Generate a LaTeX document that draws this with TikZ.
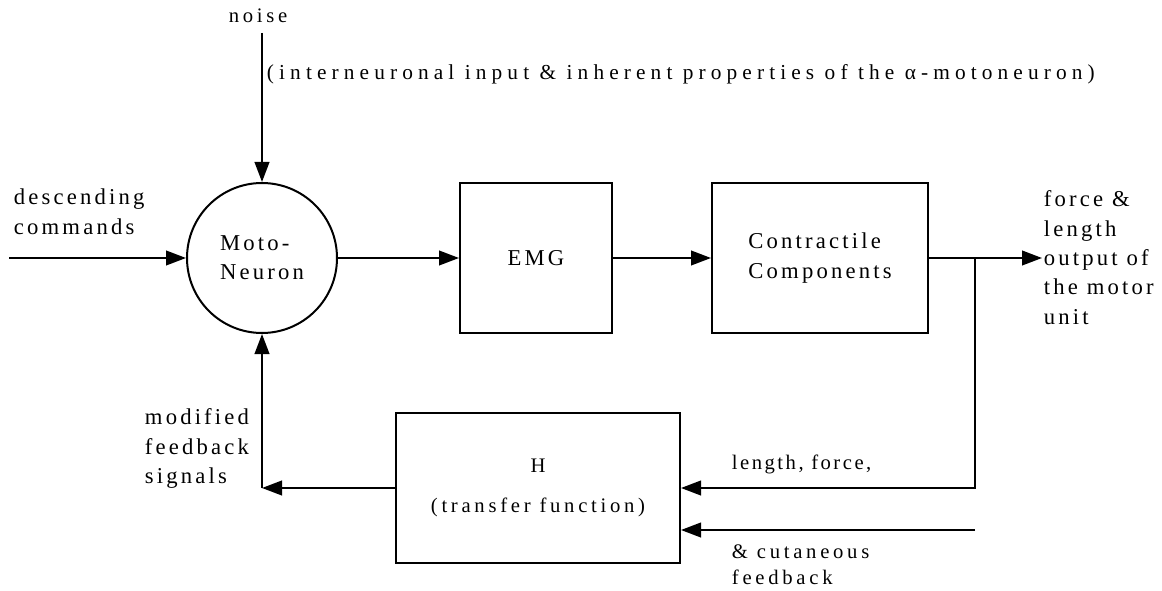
\documentclass[tikz,border=0pt]{standalone}
\usepackage{fontspec}
\setmainfont{Liberation Serif}
\newfontfamily\bigf[LetterSpace=14]{Liberation Serif}
\newfontfamily\smallf[LetterSpace=18]{Liberation Serif}
\newfontfamily\interf[LetterSpace=24]{Liberation Serif}
\newfontfamily\lenf[LetterSpace=12]{Liberation Serif}
\usetikzlibrary{arrows.meta}
\begin{document}
\begin{tikzpicture}[x=0.75pt,y=-0.75pt,
  line width=1.45pt,
  arr/.style={-{Triangle[length=15pt,width=11pt]}},
  bigtxt/.style={font=\bigf\fontsize{17}{22}\selectfont, inner sep=0pt, align=left},
  smalltxt/.style={font=\smallf\fontsize{15.5}{20}\selectfont, inner sep=0pt},
  blockbox/.style={draw, rectangle, line width=1.5pt, inner sep=0pt, minimum height=112.5pt},
]
\useasboundingbox (0,0) rectangle (1162,591);

% blocks
\node[draw, circle, line width=1.5pt, minimum size=112.5pt, inner sep=0pt, bigtxt] (moto) at (262,258) {Moto-\\Neuron};
\node[blockbox, minimum width=114pt, bigtxt] (emg) at (536,258) {EMG};
\node[blockbox, minimum width=162pt, bigtxt] (contr) at (820,258) {Contractile\\Components};
\node[blockbox, minimum width=213pt, font=\smallf\fontsize{15.5}{30}\selectfont, align=center] (hbox) at (538,488) {H\\(transfer function)};

% free ends
\coordinate (inp) at (9,258);
\coordinate (nz) at (262,33);
\coordinate (outp) at (1042,258);
\coordinate (br) at (975,258);
\coordinate (cut) at (975,530);
\coordinate (fb) at (262,488);

% texts
\node[smalltxt, anchor=base] (noise) at (258,23) {noise};
\node[inner sep=0pt, font=\interf\fontsize{16}{20}\selectfont, anchor=base west] (inter) at (266,80) {(interneuronal input \& inherent properties of the α-motoneuron)};
\node[bigtxt, anchor=north west] (desc) at (13,188) {descending\\commands};
\node[bigtxt, anchor=north west] (outtxt) at (1043,190) {force \&\\length\\output of\\the motor\\unit};
\node[bigtxt, anchor=north west] (modtxt) at (144,408) {modified\\feedback\\signals};
\node[inner sep=0pt, font=\lenf\fontsize{15.5}{20}\selectfont, anchor=base west] (lentxt) at (731,469) {length, force,};
\node[smalltxt, anchor=north west, align=left, font=\smallf\fontsize{15.5}{19.5}\selectfont] (cuttxt) at (731,544) {\& cutaneous\\feedback};

% connectors
\draw[arr] (inp) -- (moto.west);
\draw[arr] (nz) -- (moto.north);
\draw[arr] (moto.east) -- (emg.west);
\draw[arr] (emg.east) -- (contr.west);
\draw[arr] (contr.east) -- (outp);
\draw[arr] (br) |- (hbox.east);
\draw[arr] (cut) -- (hbox.east |- cut);
\draw[arr] (hbox.west) -- (fb);
\draw[arr] (fb) -- (moto.south);
\end{tikzpicture}
\end{document}
